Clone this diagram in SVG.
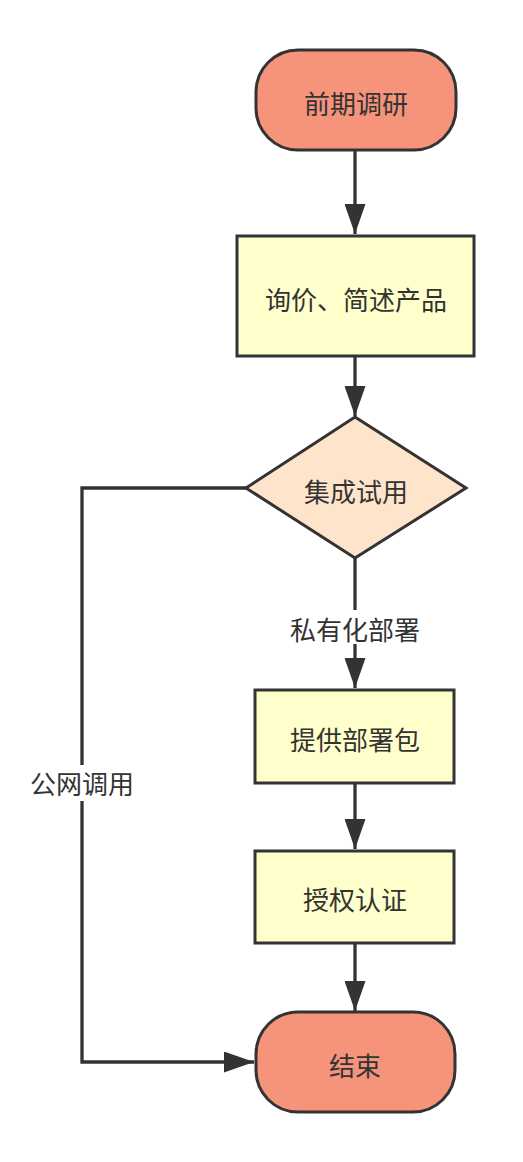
<svg xmlns="http://www.w3.org/2000/svg" width="523" height="1162" viewBox="0 0 523 1162">
<style>
text{font-family:"Noto Sans CJK SC","Noto Sans",sans-serif;font-size:26px;fill:#333;text-anchor:middle;dominant-baseline:central}
.term{fill:#F5937B;stroke:#333;stroke-width:3}
.proc{fill:#FFFFCC;stroke:#333;stroke-width:3}
.dec{fill:#FFE4CC;stroke:#333;stroke-width:3}
.edge{fill:none;stroke:#333;stroke-width:3.3}
.lbl{fill:#fff}
</style>
<defs>
<marker id="arr" viewBox="0 0 30 21" refX="30" refY="10.5" markerWidth="30" markerHeight="21" markerUnits="userSpaceOnUse" orient="auto">
<path d="M0,0 L30,10.5 L0,21 z" fill="#333"/>
</marker>
</defs>
<rect width="523" height="1162" fill="#fff"/>
<g id="edges">
<path class="edge" d="M355,150 V234" marker-end="url(#arr)"/>
<path class="edge" d="M355,356 V416" marker-end="url(#arr)"/>
<path class="edge" d="M355,558 V688" marker-end="url(#arr)"/>
<path class="edge" d="M355,783 V849" marker-end="url(#arr)"/>
<path class="edge" d="M355,943 V1011" marker-end="url(#arr)"/>
<path class="edge" d="M246,488 H82 V1062 H254" marker-end="url(#arr)"/>
<rect class="lbl" x="288" y="610" width="134" height="34"/>
<text x="355" y="628">私有化部署</text>
<rect class="lbl" x="27" y="765" width="110" height="36"/>
<text x="82" y="782">公网调用</text>
</g>
<g id="n1"><rect class="term" x="256" y="50" width="200" height="100" rx="42" ry="42"/><text x="356" y="102">前期调研</text></g>
<g id="n2"><rect class="proc" x="237" y="236" width="237" height="120"/><text x="356" y="298">询价、简述产品</text></g>
<g id="n3"><path class="dec" d="M355,417 L466,488 L355,558 L246,488 z"/><text x="356" y="490">集成试用</text></g>
<g id="n4"><rect class="proc" x="255" y="690" width="199" height="93"/><text x="355" y="738">提供部署包</text></g>
<g id="n5"><rect class="proc" x="255" y="851" width="199" height="92"/><text x="355" y="898">授权认证</text></g>
<g id="n6"><rect class="term" x="256" y="1012" width="199" height="100" rx="42" ry="42"/><text x="355" y="1064">结束</text></g>
</svg>
